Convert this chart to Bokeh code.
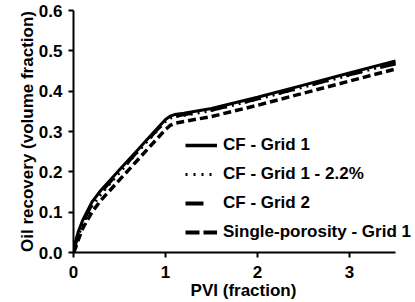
from bokeh.plotting import figure
from bokeh.models import Range1d, FixedTicker, Legend, LegendItem, PrintfTickFormatter
from bokeh.embed import file_html
from bokeh.resources import INLINE

pvi = [0, 0.02, 0.05, 0.1, 0.2, 0.3, 0.4, 0.5, 0.6, 0.7, 0.8, 0.9, 1.0, 1.05, 1.1, 1.2, 1.5, 2.0, 2.5, 3.0, 3.5]
cf_grid1 = [0, 0.025, 0.05, 0.08, 0.125, 0.155, 0.18, 0.205, 0.23, 0.255, 0.28, 0.305, 0.33, 0.338, 0.342, 0.345, 0.357, 0.385, 0.415, 0.445, 0.475]
cf_grid1_22 = [0, 0.015, 0.04, 0.07, 0.115, 0.145, 0.172, 0.198, 0.224, 0.25, 0.275, 0.3, 0.325, 0.333, 0.337, 0.34, 0.352, 0.38, 0.41, 0.44, 0.47]
cf_grid2 = [0, 0.02, 0.045, 0.075, 0.12, 0.15, 0.176, 0.2, 0.226, 0.252, 0.277, 0.302, 0.327, 0.335, 0.338, 0.342, 0.353, 0.381, 0.411, 0.441, 0.468]
single_por = [0, 0.01, 0.03, 0.06, 0.1, 0.13, 0.155, 0.18, 0.205, 0.23, 0.255, 0.28, 0.305, 0.315, 0.32, 0.325, 0.337, 0.365, 0.395, 0.425, 0.455]

series_labels = ["CF - Grid 1", "CF - Grid 1 - 2.2%", "CF - Grid 2", "Single-porosity - Grid 1"]
x_ticks = [0, 1, 2, 3]
y_ticks = [0, 0.1, 0.2, 0.3, 0.4, 0.5, 0.6]
x_max = 3.5

FONT = "Liberation Sans"
FS = "17px"

# frame is widened to the right (beyond the axis end) so the legend text is not clipped
p = figure(width=415, height=302, output_backend="svg", toolbar_location=None,
           x_range=Range1d(0, x_max * 340 / 322), y_range=Range1d(0, 0.6),
           min_border_left=73, min_border_right=2, min_border_top=10, min_border_bottom=49)
p.outline_line_color = None
p.grid.visible = False

data = [cf_grid1, cf_grid1_22, cf_grid2, single_por]
plot_styles = [dict(line_width=3), dict(line_width=3, line_dash="2 5"),
               dict(line_width=3.5, line_dash="16 19"), dict(line_width=3.5, line_dash="8 4")]
for ys, s in zip(data, plot_styles):
    p.line(pvi, ys, line_color="black", **s)

# hidden copies that carry the legend's own sample dash patterns
legend_styles = [dict(line_width=3.5), dict(line_width=3, line_dash="2 6"),
                 dict(line_width=4, line_dash="18 20"), dict(line_width=4, line_dash="14 4")]
leg_r = [p.line(pvi, ys, line_color="black", visible=False, **s) for ys, s in zip(data, legend_styles)]

for ax in (p.xaxis[0], p.yaxis[0]):
    ax.axis_line_width = 2
    ax.axis_line_color = "black"
    ax.major_tick_line_width = 2
    ax.major_tick_in = 0
    ax.major_tick_out = 5
    ax.minor_tick_line_color = None
    ax.major_label_text_font = FONT
    ax.major_label_text_font_style = "bold"
    ax.major_label_text_font_size = FS
    ax.major_label_text_color = "black"
    ax.axis_label_text_font = FONT
    ax.axis_label_text_font_style = "bold"
    ax.axis_label_text_font_size = FS
    ax.axis_label_text_color = "black"

p.xaxis.bounds = (0, x_max)
p.xaxis.ticker = FixedTicker(ticks=x_ticks)
p.yaxis.ticker = FixedTicker(ticks=y_ticks)
p.yaxis.formatter = PrintfTickFormatter(format="%.1f")
p.xaxis.axis_label = "PVI (fraction)"
p.yaxis.axis_label = "Oil recovery (volume fraction)"
p.xaxis.major_label_standoff = 8
p.xaxis.axis_label_standoff = 0
p.yaxis.major_label_standoff = 6
p.yaxis.axis_label_standoff = -1

legend = Legend(items=[LegendItem(label=l, renderers=[r]) for l, r in zip(series_labels, leg_r)],
                location=(112, 10), padding=0, margin=0, spacing=9,
                glyph_width=32, glyph_height=20, label_standoff=6,
                border_line_color=None, background_fill_alpha=0, inactive_fill_alpha=0,
                label_text_font=FONT, label_text_font_style="bold",
                label_text_font_size=FS, label_text_color="black")
p.add_layout(legend)

open("out.html", "w").write(file_html(p, INLINE))
